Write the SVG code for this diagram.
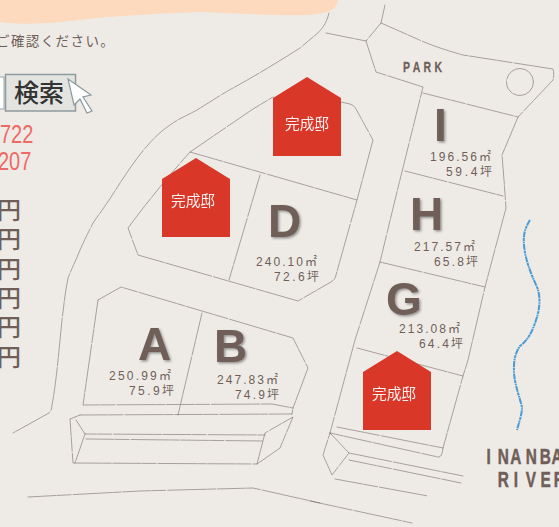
<svg xmlns="http://www.w3.org/2000/svg" width="559" height="527" viewBox="0 0 559 527">
<style>
.l{fill:none;stroke:#6f625c;stroke-width:.7;stroke-linejoin:round;stroke-linecap:round;stroke-dasharray:28 1.2 14 2 39 1 8 1.5;opacity:.8}
.h{fill:#d93829}
.c{fill:#fff;font:14.700px "Noto Sans CJK JP",sans-serif;text-anchor:middle;opacity:.92}
.big{fill:#6f5f58;font:bold 46px "Liberation Sans",sans-serif;filter:url(#sh)}
.a{fill:#6f5f58;font:12px "Liberation Sans","Noto Sans CJK JP",sans-serif}
.t{fill:#6f5f58;stroke:#6f5f58;stroke-width:.3;font:bold 15px "Liberation Sans",sans-serif}
.r{fill:#6f5f58;stroke:#6f5f58;stroke-width:.5;font:bold 22px "Liberation Sans",sans-serif}
.y{fill:#6f5f58;font:500 24px "Noto Sans CJK JP",sans-serif}
.n{fill:#ee6a66;font:25px "Liberation Sans",sans-serif}
</style>
<defs>
<filter id="sh" x="-20%" y="-20%" width="150%" height="150%"><feDropShadow dx="1.500" dy="1.500" stdDeviation="1.200" flood-color="#4a4a4a" flood-opacity=".55"/></filter>
</defs>
<rect width="559" height="527" fill="#eeebe7"/>
<path d="M0 0H338C337 5 335 8 332 10C322 15 300 16 273 15C250 14 225 13 200 12C150 14 110 16 70 21C45 24 20 25 0 22Z" fill="#fdd9bd"/>

<g id="ui">
<text x="-4" y="46" font-family="'Noto Sans CJK JP',sans-serif" font-size="13.500" letter-spacing="1.400" fill="#6f5f58">ご確認ください。</text>
<rect x="-3" y="77" width="7" height="32" fill="#fff" stroke="#9aa3a6"/>
<rect x="5.500" y="74.500" width="70" height="36.500" fill="#e3e4e0" stroke="#8f9a9e" stroke-width="1.500"/>
<text x="14" y="102" font-family="'Noto Sans CJK JP',sans-serif" font-size="25" font-weight="500" fill="#333">検索</text>
<path d="M68 79L91 95L83 97L92 111L87 113L80 99L74 105Z" fill="#fff" stroke="#8a979c" stroke-width="1.200"/>
<text class="n" transform="translate(0 143) scale(.8 1)">722</text>
<text class="n" transform="translate(-2 170) scale(.8 1)">207</text>
<text class="y" x="-3" y="219">円</text>
<text class="y" x="-3" y="248">円</text>
<text class="y" x="-3" y="278">円</text>
<text class="y" x="-3" y="307">円</text>
<text class="y" x="-3" y="336">円</text>
<text class="y" x="-3" y="366">円</text>
</g>

<g id="connectors">
<path class="l" d="M329 13C326 25 321 31 313 37C308 41 304 45 300 48C278 62 255 76 233 88C222 94 210 102 197 110C186 116 178 119 170 125C160 132 154 138 148 145C138 156 130 168 122 180C116 189 112 196 107 203C101 212 97 217 93 223C87 235 84 241 80 250C76 260 72 268 68 278C65 292 64 305 62 320C59 350 56 385 52 405C52 409 51 411 49 413L13 433"/>
<path class="l" d="M326 33L366 41L381 23L385 5M381 23L415 38C430 45 445 50 463 55L553 69C554 73 554 76 553 80L518 117L502 155L504 180L506 208L485 287L468 360L463 376L443 448C442 455 441 457 438 457L330 433"/>
<path class="l" d="M366 41L376 72L423 87L395 200L380 262L355 340L330 433M423 93L518 117M405 171L503 196M380 262L485 287M357 348L463 376M337 427L443 448"/>
<circle class="l" cx="520" cy="82" r="13.500"/>
<path class="l" d="M330 433L349 453L332 475L323 455L330 433M349 453L463 476M349 460L461 483M335 479L428 496M310 501L412 523"/>
<path class="l" d="M190 152L253 109L273 97M341 102L350 104C353 105 355 107 356 109L373 140L357 200L336 275C335 279 334 280 331 282L298 301L138 255L128 228C145 205 165 180 190 152L357 200M260 175L229 280"/>
<path class="l" d="M98 300L121 287L293 338L308 368L293 408L292 414M98 300L83 405L272 404L293 408M202 313L178 415"/>
<path class="l" d="M80 415L292 414M80 415L70 419L73 463L257 464L280 448L293 417L265 433L257 464M76 420L85 434L265 435M85 434L75 463M86 439L262 441"/>
<path class="l" d="M28 497L140 491L253 488L320 503"/>
<path d="M530 220C525 228 523 235 524 245C525 258 530 272 537 287C541 297 540 310 535 323C532 332 528 340 520 346C516 352 514 358 514 367C513 380 519 395 522 407C522 415 519 422 517 430" fill="none" stroke="#4a9ad4" stroke-width="2" stroke-dasharray="6 .7 3 .7 1.500 .7"/>
</g>

<g id="lot-a"><text class="big" x="138" y="360">A</text>
<text class="a" x="109" y="380" textLength="62">250.99㎡</text><text class="a" x="129" y="395" textLength="45">75.9坪</text></g>
<g id="lot-b"><text class="big" x="214" y="362">B</text>
<text class="a" x="217" y="384" textLength="61">247.83㎡</text><text class="a" x="235" y="399" textLength="44">74.9坪</text></g>
<g id="lot-d"><text class="big" x="268" y="237">D</text>
<text class="a" x="256" y="266" textLength="61">240.10㎡</text><text class="a" x="274" y="281" textLength="45">72.6坪</text></g>
<g id="lot-g"><text class="big" x="386" y="315">G</text>
<text class="a" x="399" y="333" textLength="61">213.08㎡</text><text class="a" x="419" y="348" textLength="44">64.4坪</text></g>
<g id="lot-h"><text class="big" x="410" y="230">H</text>
<text class="a" x="414" y="251" textLength="61">217.57㎡</text><text class="a" x="434" y="266" textLength="44">65.8坪</text></g>
<g id="lot-i"><text class="big" x="434" y="141">I</text>
<text class="a" x="430" y="161" textLength="61">196.56㎡</text><text class="a" x="446" y="176" textLength="46">59.4坪</text></g>

<g id="house-1"><path class="h" d="M307 77L341 98V156H273V98Z"/><text class="c" x="307" y="129">完成邸</text></g>
<g id="house-2"><path class="h" d="M196 158L230 179V237H162V179Z"/><text class="c" x="193" y="206">完成邸</text></g>
<g id="house-3"><path class="h" d="M397 351L431 372V430H363V372Z"/><text class="c" x="394" y="399">完成邸</text></g>

<g id="labels">
<text class="t" transform="translate(403 72) scale(.7 1)" textLength="56">PARK</text>
<text class="r" transform="scale(.7 1)" x="695 711 729 751 771 788" y="464">INANBA</text>
<text class="r" transform="scale(.7 1)" x="711 734 751 772 791" y="487">RIVER</text>
</g>
</svg>
